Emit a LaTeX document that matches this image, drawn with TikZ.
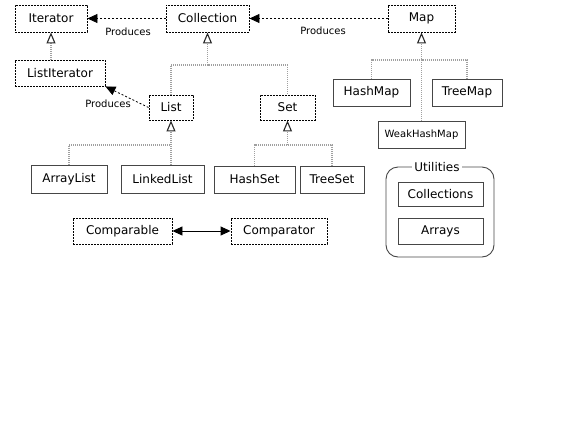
\documentclass[tikz,border=0pt]{standalone}
\usepackage{fontspec}
\setmainfont{DejaVu Sans}
\usetikzlibrary{arrows.meta}
\begin{document}
\begin{tikzpicture}[x=1pt,y=1pt,yscale=-1,xscale=1,
  iface/.style={draw, dash pattern=on 2pt off 1pt, line width=0.9, inner sep=0pt, font=\fontsize{12}{14}\selectfont},
  impl/.style={draw={rgb,255:red,70;green,70;blue,70}, line width=0.9, inner sep=0pt, font=\fontsize{12}{14}\selectfont},
  label/.style={inner sep=0.75pt, font=\fontsize{10}{12}\selectfont},
  produces/.style={dash pattern=on 2pt off 2pt, line width=0.8, -{Triangle[length=10pt,width=9pt]}},
  extends/.style={draw={rgb,255:red,160;green,160;blue,160}, dash pattern=on 1pt off 1pt, line width=1.1},
  opentip/.style={-{Triangle[open,length=11pt,width=9pt,color={rgb,255:red,40;green,40;blue,40},line width=1.1]}}
]
\useasboundingbox (0,0) rectangle (576,432);

%Shape: Rectangle (interfaces)
\node (iterator) [iface, minimum width=72, minimum height=27] at (51,18.5) {Iterator};
\node (collection) [iface, minimum width=83, minimum height=27] at (207.5,18.5) {Collection};
\node (map) [iface, minimum width=67, minimum height=27] at (421.5,18.5) {Map};
\node (listiterator) [iface, minimum width=90, minimum height=26] at (60,73) {ListIterator};
\node (list) [iface, minimum width=44, minimum height=25] at (171,107.5) {List};
\node (set) [iface, minimum width=55, minimum height=25] at (287.5,107.5) {Set};
\node (comparable) [iface, minimum width=99, minimum height=26] at (122.5,231) {Comparable};
\node (comparator) [iface, minimum width=96, minimum height=26] at (279,231) {Comparator};

%Shape: Rectangle (classes)
\node (hashmap) [impl, minimum width=77, minimum height=27] at (371.5,92.5) {HashMap};
\node (treemap) [impl, minimum width=70, minimum height=27] at (467,92.5) {TreeMap};
\node (weakhashmap) [impl, minimum width=87, minimum height=27, font=\fontsize{10}{12}\selectfont] at (421.5,134.5) {WeakHashMap};
\node (arraylist) [impl, minimum width=76, minimum height=28] at (69,179) {ArrayList};
\node (linkedlist) [impl, minimum width=83, minimum height=28] at (162.5,179) {LinkedList};
\node (hashset) [impl, minimum width=81, minimum height=27] at (254.5,179.5) {HashSet};
\node (treeset) [impl, minimum width=64, minimum height=27] at (332,179.5) {TreeSet};

%Shape: Rounded Rect (utilities)
\node (utilities) [impl, rounded corners=12, minimum width=108, minimum height=90] at (440,212) {};
\node (utilitieslabel) [fill=white, inner sep=2pt, font=\fontsize{12}{14}\selectfont] at (437,167) {Utilities};
\node (collections) [impl, minimum width=85, minimum height=24] at (440.5,194) {Collections};
\node (arrays) [impl, minimum width=85, minimum height=26] at (440.5,231) {Arrays};

%Straight Lines (produces)
\draw [produces] (collection.west) -- (iterator.east);
\draw [produces] (map.west) -- (collection.east);
\draw [produces] (list.west) -- (listiterator.south east);
\draw [{Triangle[length=10pt,width=9pt]}-{Triangle[length=10pt,width=9pt]}, line width=0.9] (comparable) -- (comparator);

%Straight Lines (inheritance)
\coordinate (colljoin) at (207.5,65);
\coordinate (listjoin) at (171,145);
\coordinate (setjoin) at (287.5,145);
\coordinate (mapjoin) at (421.5,60);
\draw [extends, opentip] (iterator.south |- listiterator.north) -- (iterator.south);
\draw [extends, opentip] (colljoin) -- (collection.south);
\draw [extends] (list.north) |- (colljoin) -| (set.north);
\draw [extends, opentip] (list.south |- linkedlist.north) -- (list.south);
\draw [extends] (arraylist.north) |- (listjoin);
\draw [extends, opentip] (setjoin) -- (set.south);
\draw [extends] (hashset.north) |- (setjoin) -| (treeset.north);
\draw [extends, opentip] (weakhashmap.north) -- (map.south);
\draw [extends] (hashmap.north) |- (mapjoin) -| (treemap.north);

% Text Node
\node (produces1) [label] at (128,32) {Produces};
% Text Node
\node (produces2) [label] at (323,30.5) {Produces};
% Text Node
\node (produces3) [label] at (108,104) {Produces};

\end{tikzpicture}
\end{document}
